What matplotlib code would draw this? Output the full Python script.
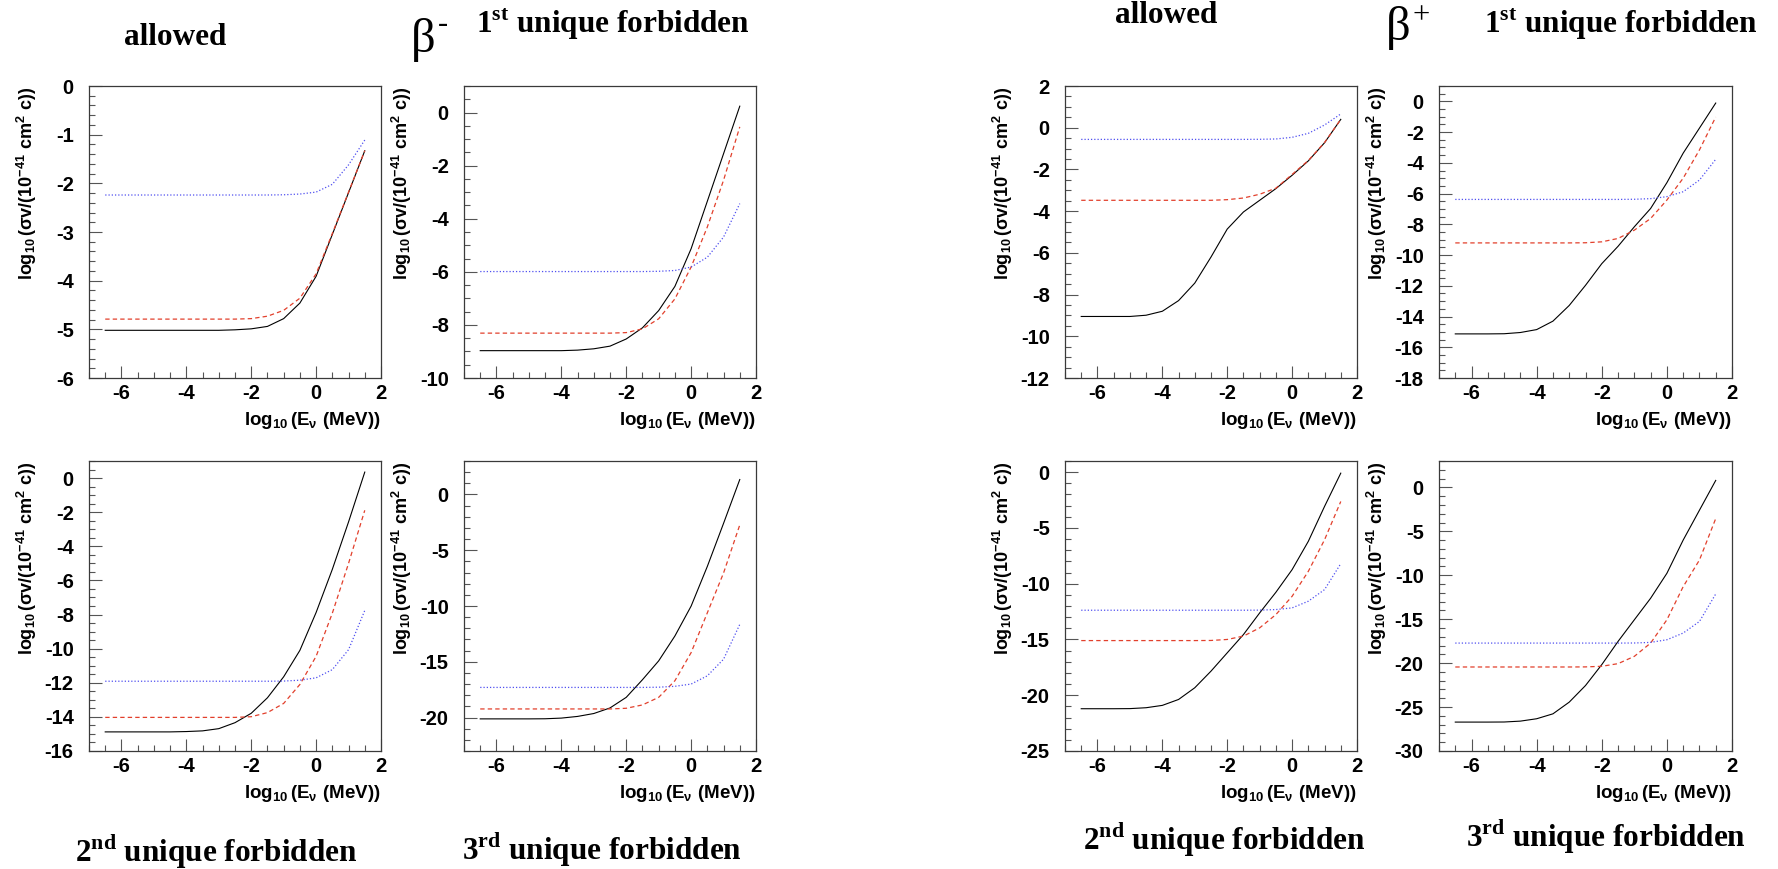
import matplotlib
matplotlib.use("Agg")
import matplotlib.pyplot as plt
from matplotlib.ticker import MultipleLocator

plt.rcParams["font.family"] = ["Liberation Sans", "DejaVu Sans"]
plt.rcParams["font.weight"] = "bold"
plt.rcParams["axes.unicode_minus"] = False
plt.rcParams["mathtext.fontset"] = "custom"
plt.rcParams["mathtext.rm"] = "Liberation Sans:bold"
plt.rcParams["mathtext.it"] = "Liberation Sans:bold"
plt.rcParams["mathtext.bf"] = "Liberation Sans:bold"
plt.rcParams["mathtext.sf"] = "Liberation Sans:bold"

# log10 of neutrino energy (MeV) at which the cross sections are tabulated
log_e = [-6.5, -6.0, -5.5, -5.0, -4.5, -4.0, -3.5, -3.0, -2.5,
         -2.0, -1.5, -1.0, -0.5, 0.0, 0.5, 1.0, 1.5]

# beta-minus, allowed
bm_allowed_black = [-5.02, -5.02, -5.02, -5.02, -5.02, -5.02, -5.02, -5.02, -5.01,
                    -4.99, -4.94, -4.78, -4.46, -3.91, -3.05, -2.19, -1.33]
bm_allowed_red = [-4.79, -4.79, -4.79, -4.79, -4.79, -4.79, -4.79, -4.79, -4.79,
                  -4.78, -4.73, -4.61, -4.36, -3.86, -3.03, -2.18, -1.33]
bm_allowed_blue = [-2.24, -2.24, -2.24, -2.24, -2.24, -2.24, -2.24, -2.24, -2.24,
                   -2.24, -2.24, -2.235, -2.22, -2.18, -2.02, -1.62, -1.11]

# beta-minus, 1st unique forbidden
bm_first_black = [-8.97, -8.97, -8.97, -8.97, -8.97, -8.97, -8.95, -8.90, -8.80,
                  -8.53, -8.11, -7.46, -6.55, -5.13, -3.34, -1.55, 0.24]
bm_first_red = [-8.31, -8.31, -8.31, -8.31, -8.31, -8.31, -8.31, -8.31, -8.31,
                -8.29, -8.15, -7.77, -7.02, -5.82, -4.31, -2.55, -0.54]
bm_first_blue = [-5.99, -5.99, -5.99, -5.99, -5.99, -5.99, -5.99, -5.99, -5.99,
                 -5.99, -5.99, -5.98, -5.95, -5.82, -5.45, -4.69, -3.43]

# beta-minus, 2nd unique forbidden
bm_second_black = [-14.88, -14.88, -14.88, -14.88, -14.88, -14.86, -14.82, -14.69, -14.34,
                   -13.79, -12.88, -11.65, -10.10, -7.88, -5.35, -2.57, 0.35]
bm_second_red = [-14.03, -14.03, -14.03, -14.03, -14.03, -14.03, -14.03, -14.03, -14.03,
                 -13.99, -13.75, -13.21, -12.10, -10.45, -7.92, -5.00, -1.89]
bm_second_blue = [-11.91, -11.91, -11.91, -11.91, -11.91, -11.91, -11.91, -11.91, -11.91,
                  -11.91, -11.91, -11.90, -11.85, -11.71, -11.23, -10.06, -7.76]

# beta-minus, 3rd unique forbidden
bm_third_black = [-20.12, -20.12, -20.12, -20.12, -20.11, -20.05, -19.90, -19.64, -19.14,
                  -18.19, -16.61, -14.92, -12.69, -10.01, -6.45, -2.59, 1.34]
bm_third_red = [-19.23, -19.23, -19.23, -19.23, -19.23, -19.23, -19.23, -19.23, -19.23,
                -19.17, -18.87, -18.19, -16.70, -14.18, -10.61, -7.04, -2.73]
bm_third_blue = [-17.30, -17.30, -17.30, -17.30, -17.30, -17.30, -17.30, -17.30, -17.30,
                 -17.30, -17.30, -17.28, -17.20, -17.00, -16.26, -14.77, -11.65]

# beta-plus, allowed
bp_allowed_black = [-9.05, -9.05, -9.05, -9.05, -8.99, -8.80, -8.29, -7.45, -6.20,
                    -4.86, -4.04, -3.48, -2.92, -2.28, -1.59, -0.72, 0.40]
bp_allowed_red = [-3.48, -3.48, -3.48, -3.48, -3.48, -3.48, -3.48, -3.48, -3.48,
                  -3.45, -3.37, -3.19, -2.90, -2.24, -1.57, -0.71, 0.40]
bp_allowed_blue = [-0.56, -0.56, -0.56, -0.56, -0.56, -0.56, -0.56, -0.56, -0.56,
                   -0.56, -0.56, -0.555, -0.54, -0.46, -0.27, 0.13, 0.66]

# beta-plus, 1st unique forbidden
bp_first_black = [-15.13, -15.13, -15.13, -15.12, -15.04, -14.85, -14.30, -13.28, -11.97,
                  -10.56, -9.43, -8.16, -6.97, -5.29, -3.37, -1.74, -0.11]
bp_first_red = [-9.21, -9.21, -9.21, -9.21, -9.21, -9.21, -9.21, -9.21, -9.20,
                -9.14, -8.92, -8.38, -7.62, -6.42, -5.00, -3.16, -1.02]
bp_first_blue = [-6.38, -6.38, -6.38, -6.38, -6.38, -6.38, -6.38, -6.38, -6.38,
                 -6.38, -6.38, -6.37, -6.33, -6.20, -5.88, -5.12, -3.77]

# beta-plus, 2nd unique forbidden
bp_second_black = [-21.21, -21.21, -21.21, -21.20, -21.12, -20.91, -20.38, -19.33, -17.84,
                   -16.20, -14.56, -12.62, -10.77, -8.74, -6.20, -3.07, -0.09]
bp_second_red = [-15.10, -15.10, -15.10, -15.10, -15.10, -15.10, -15.10, -15.10, -15.09,
                 -15.00, -14.70, -13.96, -12.77, -11.13, -8.89, -6.06, -2.63]
bp_second_blue = [-12.38, -12.38, -12.38, -12.38, -12.38, -12.38, -12.38, -12.38, -12.38,
                  -12.38, -12.38, -12.37, -12.32, -12.17, -11.57, -10.53, -8.20]

# beta-plus, 3rd unique forbidden
bp_third_black = [-26.71, -26.71, -26.71, -26.70, -26.60, -26.33, -25.77, -24.44, -22.55,
                  -20.17, -17.53, -15.07, -12.62, -9.78, -6.00, -2.60, 0.79]
bp_third_red = [-20.44, -20.44, -20.44, -20.44, -20.44, -20.44, -20.44, -20.44, -20.43,
                -20.36, -20.06, -19.23, -17.72, -15.07, -11.30, -8.27, -3.55]
bp_third_blue = [-17.72, -17.72, -17.72, -17.72, -17.72, -17.72, -17.72, -17.72, -17.72,
                 -17.72, -17.72, -17.71, -17.64, -17.34, -16.58, -15.26, -12.13]

# y-axis ranges and tick steps (major, minor) for each panel
y_ranges = {
    "bm_allowed": (-6, 0, 1, 0.2),
    "bm_first": (-10, 1, 2, 0.5),
    "bm_second": (-16, 1, 2, 0.5),
    "bm_third": (-23, 3, 5, 1),
    "bp_allowed": (-12, 2, 2, 0.5),
    "bp_first": (-18, 1, 2, 0.5),
    "bp_second": (-25, 1, 5, 1),
    "bp_third": (-30, 3, 5, 1),
}

panels = [
    ("bm_allowed", bm_allowed_black, bm_allowed_red, bm_allowed_blue),
    ("bm_first", bm_first_black, bm_first_red, bm_first_blue),
    ("bm_second", bm_second_black, bm_second_red, bm_second_blue),
    ("bm_third", bm_third_black, bm_third_red, bm_third_blue),
    ("bp_allowed", bp_allowed_black, bp_allowed_red, bp_allowed_blue),
    ("bp_first", bp_first_black, bp_first_red, bp_first_blue),
    ("bp_second", bp_second_black, bp_second_red, bp_second_blue),
    ("bp_third", bp_third_black, bp_third_red, bp_third_blue),
]

W, H = 1778, 869
fig = plt.figure(figsize=(W / 100, H / 100), dpi=100)
fig.patch.set_facecolor("white")

# frame geometry in pixels (left, top, width, height)
col_left = [89, 464, 1065, 1439]
row_top = [86, 461]
box_w = [292, 292, 292, 293]
box_h = [292, 290]
# panel placement: (column, row)
place = {
    "bm_allowed": (0, 0), "bm_first": (1, 0),
    "bm_second": (0, 1), "bm_third": (1, 1),
    "bp_allowed": (2, 0), "bp_first": (3, 0),
    "bp_second": (2, 1), "bp_third": (3, 1),
}


def fx(px):
    return px / W


def fy(py):
    return 1 - py / H


frame_col = "#3a3a3a"
tick_col = "#555555"
ylab = r"$\log_{10}(\sigma v/(10^{-41}\ cm^{2}\ c))$"
xlab = r"$\log_{10}(E_{\nu}\ (MeV))$"

for key, black, red, blue in panels:
    c, r = place[key]
    l, t, w, h = col_left[c], row_top[r], box_w[c], box_h[r]
    ax = fig.add_axes([fx(l), fy(t + h), w / W, h / H])
    ymin, ymax, ymaj, ymin_step = y_ranges[key]
    ax.plot(log_e, black, color="black", lw=0.8, solid_joinstyle="miter")
    ax.plot(log_e, red, color="#e2402c", lw=0.9, dashes=(3.5, 2.5))
    ax.plot(log_e, blue, color="#5050f0", lw=0.9, dashes=(1.0, 1.6))
    ax.set_xlim(-7, 2)
    ax.set_ylim(ymin, ymax)
    ax.xaxis.set_major_locator(MultipleLocator(2))
    ax.xaxis.set_minor_locator(MultipleLocator(0.5))
    ax.yaxis.set_major_locator(MultipleLocator(ymaj))
    ax.yaxis.set_minor_locator(MultipleLocator(ymin_step))
    ax.tick_params(which="both", direction="in", top=False, right=False,
                   color=tick_col, width=0.8)
    ax.tick_params(which="major", length=9)
    ax.tick_params(which="minor", length=4.5)
    ax.tick_params(axis="y", which="major", pad=11, labelsize=14.5)
    ax.tick_params(axis="x", which="major", pad=4, labelsize=14.5)
    for s in ax.spines.values():
        s.set_color(frame_col)
        s.set_linewidth(0.9)
    # axis titles placed at the upper / right end of each axis
    fig.text(fx(l - 62), fy(t), ylab, rotation=90, ha="center", va="top",
             fontsize=13)
    fig.text(fx(l + w), fy(t + h + 43), xlab, ha="right", va="center",
             fontsize=13.5)

serif = ["Liberation Serif", "DejaVu Serif"]


def title(x, y, s, size=22.5, ha="center"):
    fig.text(fx(x), fy(y), s, ha=ha, va="baseline", fontsize=size,
             fontweight="bold", family=serif)


# beta-minus block headings
title(175, 45, "allowed")
fig.text(fx(411), fy(52), "β", ha="left", va="baseline", fontsize=35,
         fontweight="normal", family=serif)
fig.text(fx(438), fy(32), "-", ha="left", va="baseline", fontsize=22,
         fontweight="normal", family=serif)
title(476, 33, r"1$^{\mathregular{st}}$ unique forbidden", ha="left")
title(216, 862, r"2$^{\mathregular{nd}}$ unique forbidden")
title(602, 860, r"3$^{\mathregular{rd}}$ unique forbidden")

# beta-plus block headings
title(1166, 23, "allowed")
fig.text(fx(1386), fy(40), "β", ha="left", va="baseline", fontsize=35,
         fontweight="normal", family=serif)
fig.text(fx(1412), fy(23), "+", ha="left", va="baseline", fontsize=22,
         fontweight="normal", family=serif)
title(1484, 33, r"1$^{\mathregular{st}}$ unique forbidden", ha="left")
title(1224, 850, r"2$^{\mathregular{nd}}$ unique forbidden")
title(1606, 847, r"3$^{\mathregular{rd}}$ unique forbidden")

fig.savefig("out.png", dpi=100, facecolor="white")
